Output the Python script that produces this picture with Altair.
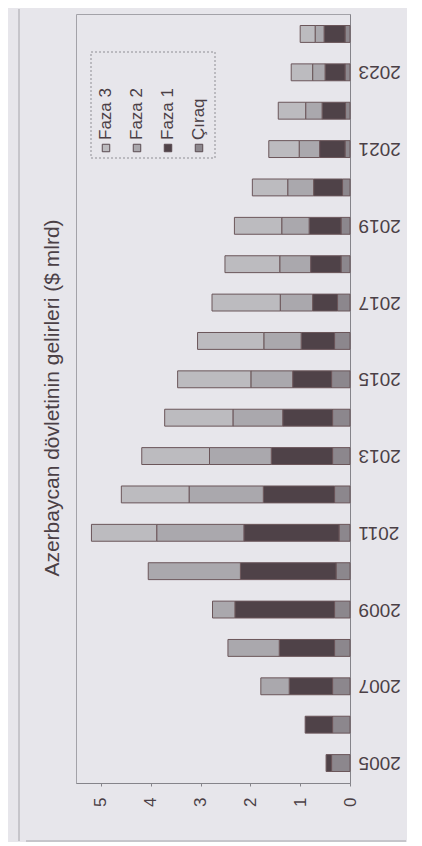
import altair as alt
import pandas as pd

# ---- data ($ mlrd) ----
years = list(range(2005, 2025))
chiraq = [0.37, 0.35, 0.35, 0.31, 0.31, 0.28, 0.22, 0.31, 0.35, 0.35,
          0.37, 0.31, 0.25, 0.18, 0.18, 0.15, 0.10, 0.09, 0.10, 0.10]
faza1 = [0.11, 0.55, 0.87, 1.11, 2.00, 1.92, 1.91, 1.43, 1.23, 1.00,
         0.78, 0.67, 0.50, 0.61, 0.64, 0.58, 0.51, 0.47, 0.40, 0.42]
faza2 = [0.00, 0.00, 0.57, 1.03, 0.45, 1.85, 1.75, 1.49, 1.24, 1.00,
         0.84, 0.75, 0.65, 0.62, 0.55, 0.52, 0.41, 0.33, 0.25, 0.18]
faza3 = [0.00, 0.00, 0.00, 0.00, 0.00, 0.00, 1.31, 1.36, 1.36, 1.37,
         1.47, 1.33, 1.37, 1.10, 0.95, 0.71, 0.61, 0.55, 0.43, 0.30]

series_names = ["Çıraq", "Faza 1", "Faza 2", "Faza 3"]
series_colors = ["#8c878d", "#4f4248", "#aaa8ad", "#bcbbbf"]
legend_order = ["Faza 3", "Faza 2", "Faza 1", "Çıraq"]
value_ticks = [0, 1, 2, 3, 4, 5]
title_text = ["Azerbaycan dövletinin gelirleri ($ mlrd)"]

FONT = "Liberation Sans"
INK = "#4b4046"

rows = []
for si, (name, vals) in enumerate(zip(series_names, [chiraq, faza1, faza2, faza3])):
    for yr, v in zip(years, vals):
        if v > 0:
            rows.append({"year": yr, "series": name, "value": v, "ord": si})
df = pd.DataFrame(rows)

color = alt.Color("series:N",
                  scale=alt.Scale(domain=series_names, range=series_colors),
                  legend=None)

bars = alt.Chart(df).mark_bar(stroke="#6b565a", strokeWidth=1).encode(
    x=alt.X("value:Q", stack="zero",
            scale=alt.Scale(domain=[0, 5.5], reverse=True, nice=False),
            axis=alt.Axis(values=value_ticks, title=None, orient="bottom",
                          labelAngle=-90, labelAlign="right", labelBaseline="middle",
                          grid=False, tickSize=3, labelPadding=11,
                          labelFontSize=17, labelFont=FONT, labelColor=INK,
                          domainColor="#85848a", tickColor="#85848a")),
    y=alt.Y("year:O", sort="descending",
            scale=alt.Scale(paddingInner=0.56, paddingOuter=0.3),
            axis=alt.Axis(orient="right", title=None, labelAngle=180,
                          labelAlign="right", labelBaseline="middle",
                          labelExpr="datum.value % 2 == 1 ? datum.label : ''",
                          ticks=False, labelPadding=8,
                          labelFontSize=19, labelFont=FONT, labelColor=INK,
                          domainColor="#85848a")),
    color=color,
    order=alt.Order("ord:Q"),
)

leg = alt.Chart(pd.DataFrame({"series": legend_order})).transform_window(
    idx="row_number()"
).transform_calculate(lx="30 + 31 * (datum.idx - 1)")

swatches = leg.mark_square(size=56, stroke="#5a4a50", strokeWidth=1, opacity=1).encode(
    x=alt.X("lx:Q", scale=None, axis=None),
    y=alt.value(134),
    color=color,
)
labels = leg.mark_text(angle=270, align="left", baseline="middle",
                       fontSize=17, font=FONT, color=INK).encode(
    x=alt.X("lx:Q", scale=None, axis=None),
    y=alt.value(126),
    text="series:N",
)
blank = alt.Data(values=[{}])
box = alt.Chart(blank).mark_rect(fill="transparent", stroke="#8f8e94",
                                 strokeDash=[2, 2], strokeWidth=1).encode(
    x=alt.value(15), x2=alt.value(139), y=alt.value(38), y2=alt.value(144))
frame_left = alt.Chart(blank).mark_rule(color="#a5a4aa", strokeWidth=1).encode(
    x=alt.value(-57), y=alt.value(-5), y2=alt.value(827))
frame_bottom = alt.Chart(blank).mark_rule(color="#a5a4aa", strokeWidth=1).encode(
    x=alt.value(-50), x2=alt.value(330), y=alt.value(827))
title = alt.Chart(pd.DataFrame({"t": title_text})).mark_text(
    angle=270, align="center", baseline="middle", fontSize=21, font=FONT, color=INK
).encode(x=alt.value(-23), y=alt.value(384), text="t:N")

chart = alt.layer(frame_left, frame_bottom, title, bars, box, swatches, labels).properties(
    width=274, height=769,
    padding={"left": 10, "top": 0, "right": 0, "bottom": 0},
    background="#e7e6eb",
).configure_view(stroke="#a3a2a8", strokeWidth=1)

chart.save("out.html", embed_options={"renderer": "svg", "actions": False})
